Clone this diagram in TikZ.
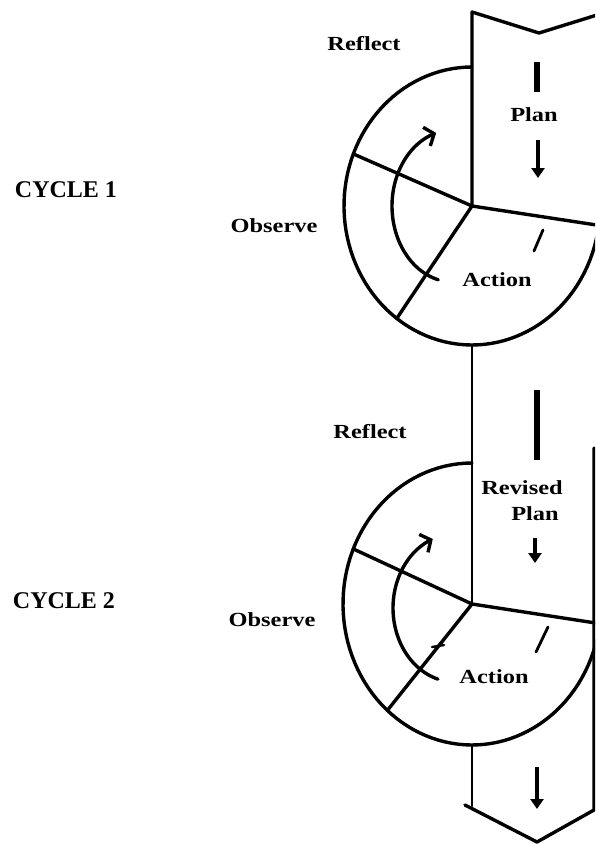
\documentclass[tikz,border=0pt]{standalone}
\usepackage{fontspec}
\setmainfont{Liberation Serif}
\usetikzlibrary{arrows.meta}
\begin{document}
\begin{tikzpicture}[x=1pt,y=-1pt,line join=round,line cap=round,
  outline/.style={line width=3.4pt},
  thinline/.style={line width=2.8pt},
  barline/.style={line width=6pt,line cap=butt},
  downarrow/.style={line width=3.6pt,line cap=butt,-{Triangle[length=10pt,width=13pt]}},
  turnarrow/.style={line width=3.4pt,-{Straight Barb[length=8pt,width=20pt]}},
  lbl/.style={font=\fontsize{20}{22}\selectfont\bfseries,xscale=1.22,transform shape,inner sep=0pt},
  cyc/.style={font=\fontsize{24}{26}\selectfont\bfseries,inner sep=0pt}]
\useasboundingbox (0,0) rectangle (595,844);
\clip (0,0) rectangle (595,844);

% ---- named points ----
\coordinate (c1) at (472,206);
\coordinate (c2) at (472,604);
\coordinate (top1) at (472,67);
\coordinate (bot1) at (472,345);
\coordinate (top2) at (472,463);
\coordinate (bot2) at (472,745);
\coordinate (ul1) at ({472+128*cos(158)},{206-139*sin(158)});
\coordinate (ll1) at ({472+128*cos(234)},{206-139*sin(234)});
\coordinate (r1)  at ({472+128*cos(352)},{206-139*sin(352)});
\coordinate (ul2) at ({472+129*cos(157)},{604-141*sin(157)});
\coordinate (ll2) at ({472+129*cos(229)},{604-141*sin(229)});
\coordinate (r2)  at ({472+129*cos(352)},{604-141*sin(352)});
\coordinate (stripTL) at (472,12);
\coordinate (notchT) at (539,33);
\coordinate (stripTR) at (597,15);
\coordinate (stripBL) at (472,806);
\coordinate (chevL) at (465,805);
\coordinate (notchB) at (537,842);
\coordinate (chevR) at (594,810);
\coordinate (edgeR) at (594,448);

% ---- strip ----
\draw[outline] (stripTR) -- (notchT) -- (stripTL) -- (c1);
\draw[thinline] (bot1) -- (c2);
\draw[thinline] (bot2) -- (stripBL);
\draw[outline] (chevL) -- (notchB) -- (chevR) -- (edgeR);

% ---- cycle 1 wheel ----
\draw[outline] plot[domain=90:352,samples=90,variable=\t] ({472+128*cos(\t)},{206-139*sin(\t)});
\draw[outline] (c1) -- (ul1);
\draw[outline] (c1) -- (ll1);
\draw[outline] (c1) -- (r1);
\draw[turnarrow] plot[domain=256:106,samples=60,variable=\t] ({453+61*cos(\t)},{206-76*sin(\t)});

% ---- cycle 2 wheel ----
\draw[outline] plot[domain=90:352,samples=90,variable=\t] ({472+129*cos(\t)},{604-141*sin(\t)});
\draw[outline] (c2) -- (ul2);
\draw[outline] (c2) -- (ll2);
\draw[outline] (c2) -- (r2);
\draw[turnarrow] plot[domain=254:111,samples=60,variable=\t] ({455+62*cos(\t)},{608-74*sin(\t)});

% ---- small marks ----
\coordinate (t1a) at (543,230); \coordinate (t1b) at (534,251);
\coordinate (t2a) at (548,627); \coordinate (t2b) at (536,652);
\coordinate (d2a) at (432,647); \coordinate (d2b) at (444,645);
\draw[thinline] (t1a) -- (t1b);
\draw[thinline] (t2a) -- (t2b);
\draw[line width=2.4pt] (d2a) -- (d2b);

% ---- strip arrows ----
\coordinate (b1a) at (537,62);  \coordinate (b1b) at (537,92);
\coordinate (a1a) at (538,140); \coordinate (a1b) at (538,178);
\coordinate (b2a) at (537,390); \coordinate (b2b) at (537,460);
\coordinate (a2a) at (535,538); \coordinate (a2b) at (535,563);
\coordinate (a3a) at (537,767); \coordinate (a3b) at (537,809);
\draw[barline] (b1a) -- (b1b);
\draw[downarrow] (a1a) -- (a1b);
\draw[barline] (b2a) -- (b2b);
\draw[downarrow] (a2a) -- (a2b);
\draw[downarrow] (a3a) -- (a3b);

% ---- labels ----
\node[lbl] (reflect1) at (364,44) {Reflect};
\node[lbl] (plan1) at (534,115) {Plan};
\node[lbl] (observe1) at (274,226) {Observe};
\node[lbl] (action1) at (497,280) {Action};
\node[cyc] (cycle1) at (66,190) {CYCLE 1};

\node[lbl] (reflect2) at (370,432) {Reflect};
\node[lbl] (revised) at (522,488) {Revised};
\node[lbl] (plan2) at (535,514) {Plan};
\node[lbl] (observe2) at (272,620) {Observe};
\node[lbl] (action2) at (494,677) {Action};
\node[cyc] (cycle2) at (64,601) {CYCLE 2};
\end{tikzpicture}
\end{document}
